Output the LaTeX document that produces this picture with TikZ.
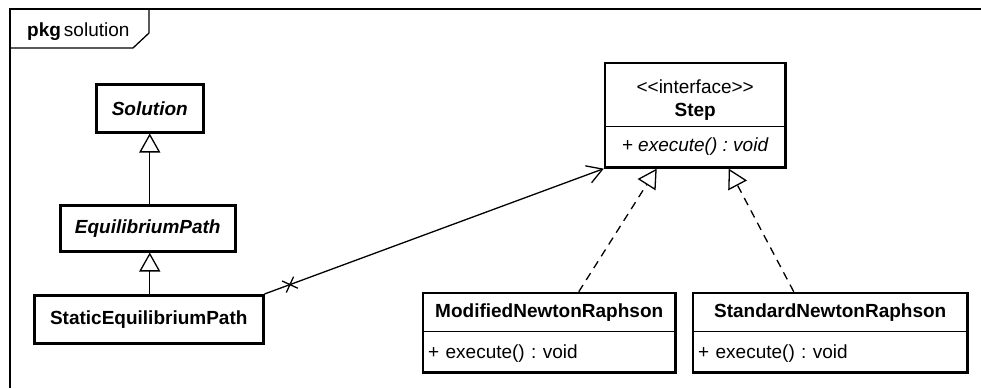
\documentclass[tikz,border=0pt]{standalone}
\usepackage{fontspec}
\setmainfont{Liberation Sans}
\usetikzlibrary{arrows.meta,fit,calc,shapes.misc}
\begin{document}
\frenchspacing
\begin{tikzpicture}[x=1pt,y=-1pt,
  every node/.style={font=\fontsize{19}{23}\selectfont},
  cls/.style={draw,line width=2.5pt,inner sep=0pt,anchor=north west,align=center},
  part/.style={inner sep=0pt,anchor=north west,align=center},
  label/.style={inner sep=0pt,anchor=base},
  attr/.style={inner xsep=5pt,inner ysep=0pt,anchor=north west,text depth=0pt},
  outline/.style={draw,line width=2.5pt,inner sep=0pt},
  divider/.style={line width=1pt},
  gen/.style={line width=1.3pt,-{Triangle[open,length=19pt,width=21pt,line width=1.3pt,fill=white]}},
  real/.style={line width=1.3pt,dash pattern=on 8pt off 6pt,-{Triangle[open,length=19pt,width=21pt,line width=1.3pt,fill=white]}},
  assoc/.style={line width=1.3pt,-{Straight Barb[length=15pt,width=18pt,line width=1.3pt]}},
  framepen/.style={line width=1.3pt}
]
\useasboundingbox (0,0) rectangle (981,388);

% package frame
\draw[framepen] (981,9) -- (10,9) -- (10,388);
\draw[framepen] (10,48) -- (133,48) -- (149,33) -- (149,9);
\node[anchor=base west,inner sep=0pt] (pkg) at (27,36) {\textbf{pkg}\hspace{3pt}solution};

% left hierarchy
\node[cls,minimum width=107pt,minimum height=48pt] (sol) at (95,83) {\textbf{\textit{Solution}}};
\node[cls,minimum width=175pt,minimum height=46pt] (eq) at (59,204) {\textbf{\textit{EquilibriumPath}}};
\node[cls,minimum width=229pt,minimum height=48pt] (sta) at (33,294) {\textbf{StaticEquilibriumPath}};

% Step interface
\node[part,minimum width=180pt,minimum height=63pt] (stepH) at (605,63) {};
\node[label] (stereo) at ([yshift=-30pt]stepH.north) {{<}{<}interface{>}{>}};
\node[label] (stepname) at ([yshift=-53pt]stepH.north) {\textbf{Step}};
\node[part,minimum width=180pt,minimum height=41pt] (stepB) at (605,126) {\textit{+ execute() : void}};
\node[outline,fit=(stepH)(stepB)] (step) {};
\draw[divider] (stepH.south west) -- (stepH.south east);

% ModifiedNewtonRaphson
\node[part,minimum width=252pt,minimum height=38pt] (modH) at (423,293) {\textbf{ModifiedNewtonRaphson}};
\node[attr,minimum width=252pt,minimum height=41pt,text width=242pt,align=left] (modB) at (423,331) {+ execute() : void};
\node[outline,fit=(modH)(modB)] (mod) {};
\draw[divider] (modH.south west) -- (modH.south east);

% StandardNewtonRaphson
\node[part,minimum width=274pt,minimum height=38pt] (stdH) at (693,293) {\textbf{StandardNewtonRaphson}};
\node[attr,minimum width=274pt,minimum height=41pt,text width=264pt,align=left] (stdB) at (693,331) {+ execute() : void};
\node[outline,fit=(stdH)(stdB)] (std) {};
\draw[divider] (stdH.south west) -- (stdH.south east);

% generalizations
\draw[gen] (eq.north -| sol.south) -- (sol.south);
\draw[gen] (sta.north -| sol.south) -- (eq.south -| sol.south);

% association
\draw[assoc] (sta.north east) -- (step.south west)
  node[pos=0.075,sloped,cross out,draw,line width=1.3pt,minimum size=11pt,inner sep=0pt] (xmark) {};

% realizations
\draw[real] ([xshift=157pt]mod.north west) -- ([xshift=53pt]step.south west);
\draw[real] ([xshift=102pt]std.north west) -- ([xshift=125pt]step.south west);
\end{tikzpicture}
\end{document}
